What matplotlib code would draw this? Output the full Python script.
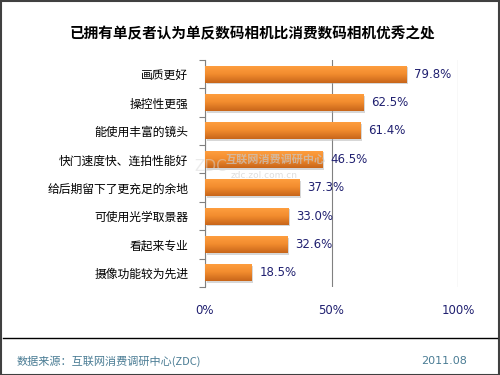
import matplotlib
matplotlib.use("Agg")
import matplotlib.pyplot as plt
import numpy as np
from matplotlib.patches import Rectangle
from matplotlib.colors import LinearSegmentedColormap

plt.rcParams['font.family'] = ['Noto Sans CJK SC', 'DejaVu Sans']

categories = ["画质更好", "操控性更强", "能使用丰富的镜头", "快门速度快、连拍性能好",
              "给后期留下了更充足的余地", "可使用光学取景器", "看起来专业", "摄像功能较为先进"]
values = [79.8, 62.5, 61.4, 46.5, 37.3, 33.0, 32.6, 18.5]
xticks = [0, 50, 100]
xtick_labels = ["0%", "50%", "100%"]
title = "已拥有单反者认为单反数码相机比消费数码相机优秀之处"
source = "数据来源：互联网消费调研中心(ZDC)"
date = "2011.08"

fig = plt.figure(figsize=(5, 3.75), dpi=100)
ax = fig.add_axes([0.41, 0.2347, 0.506, 0.6053])

n = len(categories)
y = np.arange(n)
# shadow
ax.barh(y + 0.06, values, height=0.6, left=0.6, color='#b0b0b0', alpha=0.5, zorder=2)
bars = ax.barh(y, values, height=0.6, color='#f08a2c', zorder=3)
grad = np.linspace(0, 1, 64).reshape(-1, 1)
cmap = LinearSegmentedColormap.from_list('o', ['#ffa040', '#f28c2e', '#c8661a'])
for b in bars:
    x0, y0, w, h = b.get_x(), b.get_y(), b.get_width(), b.get_height()
    im = ax.imshow(grad, cmap=cmap, aspect='auto', extent=[x0, x0 + w, y0 + h, y0],
                   zorder=4, interpolation='bilinear')
    im.set_clip_path(b)

for yi, v in zip(y, values):
    ax.text(v + 3, yi, f"{v:.1f}%", va='center', ha='left', fontsize=8.5,
            color='#202070', family=['DejaVu Sans'], zorder=5)

ax.set_xlim(0, 100)
ax.set_ylim(n - 0.5, -0.5)
ax.set_yticks(y)
ax.set_yticklabels(categories, fontsize=8.5)
ax.set_yticks(np.arange(n + 1) - 0.5, minor=True)
ax.tick_params(axis='y', which='major', length=0, pad=12)
ax.tick_params(axis='y', which='minor', length=4, color='#808080', width=0.8)
ax.set_xticks(xticks)
ax.set_xticklabels(xtick_labels, fontsize=8.5, color='#202070', family=['DejaVu Sans'])
ax.tick_params(axis='x', length=0, pad=12)
ax.xaxis.grid(True, color='#808080', linewidth=0.8, zorder=0)
ax.set_axisbelow(True)
for s in ['top', 'right', 'bottom']:
    ax.spines[s].set_visible(False)
ax.spines['left'].set_color('#808080')
ax.spines['left'].set_linewidth(0.8)

# watermark
fig.text(0.452, 0.574, "互联网消费调研中心", fontsize=8, color='#c8c8c8', alpha=0.7,
         ha='left', va='center', fontweight='bold', zorder=10)
fig.text(0.462, 0.532, "zdc.zol.com.cn", fontsize=6.5, color='#c8c8c8', alpha=0.6,
         ha='left', va='center', family=['DejaVu Sans'], zorder=10)
fig.text(0.388, 0.555, "ZDC", fontsize=11, color='#d8d8d8', alpha=0.5,
         ha='left', va='center', family=['DejaVu Sans'], zorder=10)

fig.text(0.504, 0.912, title, fontsize=10.5, fontweight='bold', ha='center', va='center')

# footer line
fig.add_artist(plt.Line2D([0.006, 0.994], [1 - 338 / 375, 1 - 338 / 375], color='black', linewidth=1))
fig.text(0.034, 1 - 361 / 375, source, fontsize=8, color='#4a7c94', ha='left', va='center')
fig.text(0.933, 1 - 361 / 375, date, fontsize=8, color='#4a7c94', ha='right', va='center',
         family=['DejaVu Sans'])

# outer border
fig.add_artist(Rectangle((0.001, 0.001), 0.997, 0.996, transform=fig.transFigure,
                         fill=False, edgecolor='#404040', linewidth=1.5))

fig.savefig("out.png", dpi=100)
